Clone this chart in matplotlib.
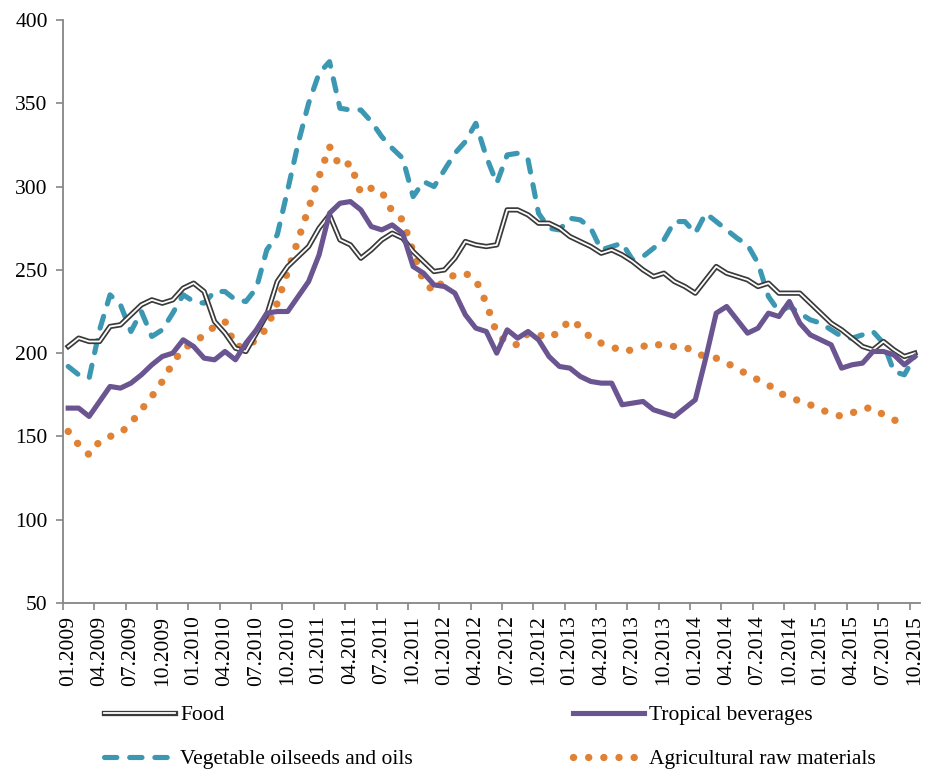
import matplotlib
matplotlib.use("Agg")
import matplotlib.pyplot as plt
import matplotlib.patheffects as pe
import numpy as np

plt.rcParams['font.family'] = ['Liberation Serif', 'DejaVu Serif']

# monthly index values, 01.2009 - 10.2015
food = [204, 209, 207, 207, 216, 217, 223, 229, 232, 230,
        232, 239, 242, 237, 219, 212, 203, 201, 212, 223,
        243, 252, 258, 264, 275, 283, 268, 265, 257, 262,
        268, 272, 269, 261, 255, 249, 250, 257, 267, 265,
        264, 265, 286, 286, 283, 278, 278, 275, 270, 267,
        264, 260, 262, 259, 255, 250, 246, 248, 243, 240,
        236, 244, 252, 248, 246, 244, 240, 242, 236, 236,
        236, 230, 224, 218, 214, 209, 204, 202, 207, 202,
        198, 200]
tropical = [167, 167, 162, 171, 180, 179, 182, 187, 193, 198,
            200, 208, 204, 197, 196, 201, 196, 206, 214, 224,
            225, 225, 234, 243, 259, 284, 290, 291, 286, 276,
            274, 277, 272, 252, 248, 241, 240, 236, 223, 215,
            213, 200, 214, 209, 213, 208, 198, 192, 191, 186,
            183, 182, 182, 169, 170, 171, 166, 164, 162, 167,
            172, 197, 224, 228, 220, 212, 215, 224, 222, 231,
            218, 211, 208, 205, 191, 193, 194, 201, 201, 199,
            193, 198]
vegoil = [192, 187, 185, 214, 235, 229, 213, 225, 210, 214,
          224, 235, 231, 230, 237, 237, 232, 231, 239, 262,
          271, 298, 326, 350, 368, 375, 347, 346, 346, 339,
          330, 323, 317, 294, 303, 300, 310, 320, 327, 338,
          318, 302, 319, 320, 316, 284, 275, 274, 281, 280,
          275, 262, 264, 266, 256, 258, 263, 268, 279, 279,
          272, 284, 279, 274, 269, 265, 254, 234, 225, 228,
          224, 220, 218, 214, 210, 209, 211, 213, 206, 189,
          187, 198]
agri = [153, 145, 139, 147, 150, 152, 158, 166, 174, 183,
        194, 203, 206, 211, 216, 219, 204, 204, 208, 215,
        230, 249, 268, 287, 306, 324, 312, 314, 296, 299,
        297, 285, 280, 261, 243, 237, 244, 247, 248, 244,
        230, 212, 206, 205, 212, 211, 209, 213, 220, 216,
        209, 206, 204, 201, 202, 204, 206, 204, 204, 204,
        200, 198, 197, 194, 191, 187, 184, 181, 176, 174,
        171, 169, 166, 164, 162, 164, 167, 167, 163, 160,
        157, np.nan]

tick_labels = ['01.2009', '04.2009', '07.2009', '10.2009',
               '01.2010', '04.2010', '07.2010', '10.2010',
               '01.2011', '04.2011', '07.2011', '10.2011',
               '01.2012', '04.2012', '07.2012', '10.2012',
               '01.2013', '04.2013', '07.2013', '10.2013',
               '01.2014', '04.2014', '07.2014', '10.2014',
               '01.2015', '04.2015', '07.2015', '10.2015']

x = np.arange(len(food))
fs = 15.5

fig = plt.figure(figsize=(9.27, 7.72), dpi=100)
ax = fig.add_axes([63/927, 1 - 603/772, (920 - 63)/927, (603 - 20)/772])

l_food, = ax.plot(x, food, color='white', lw=1.3, label='Food', zorder=3,
                  path_effects=[pe.Stroke(linewidth=3.8, foreground='#3a3a3a'), pe.Normal()])
l_trop, = ax.plot(x, tropical, color='#6A5591', lw=3.7, label='Tropical beverages',
                  solid_joinstyle='round', zorder=4)
l_veg, = ax.plot(x, vegoil, color='#3C98B2', lw=3.7, label='Vegetable oilseeds and oils',
                 linestyle=(0, (2.4, 2.5)), dash_capstyle='round', zorder=2)
l_agri, = ax.plot(x, agri, color='#E08235', lw=5.3, label='Agricultural raw materials',
                  linestyle=(0, (0.01, 2.05)), dash_capstyle='round', zorder=1)

ax.set_xlim(-0.5, len(food) - 0.5)
ax.set_ylim(50, 400)
ax.set_yticks(np.arange(50, 401, 50))

ax.set_xticks(np.arange(-0.5, len(food), 3))
ax.set_xticklabels([])
ax.set_xticks(np.arange(0, len(food), 3), minor=True)
ax.set_xticklabels(tick_labels, minor=True, rotation=90, fontsize=fs)
ax.tick_params(axis='x', which='major', length=5, width=1.2, color='#868686', direction='out')
ax.tick_params(axis='x', which='minor', length=0, pad=9)
ax.tick_params(axis='y', length=5, width=1.2, color='#868686', labelsize=fs, pad=6)

for s in ['top', 'right']:
    ax.spines[s].set_visible(False)
for s in ['left', 'bottom']:
    ax.spines[s].set_color('#868686')
    ax.spines[s].set_linewidth(1.3)

leg_kw = dict(loc='upper left', frameon=False, fontsize=fs, borderpad=0, borderaxespad=0,
              handlelength=3.3, handletextpad=0.25, labelspacing=1.12)
fig.legend(handles=[l_food, l_veg], bbox_to_anchor=(104/927, 1 - 705/772), **leg_kw)
fig.legend(handles=[l_trop, l_agri], bbox_to_anchor=(573/927, 1 - 705/772), **leg_kw)

fig.savefig('out.png', dpi=100)
